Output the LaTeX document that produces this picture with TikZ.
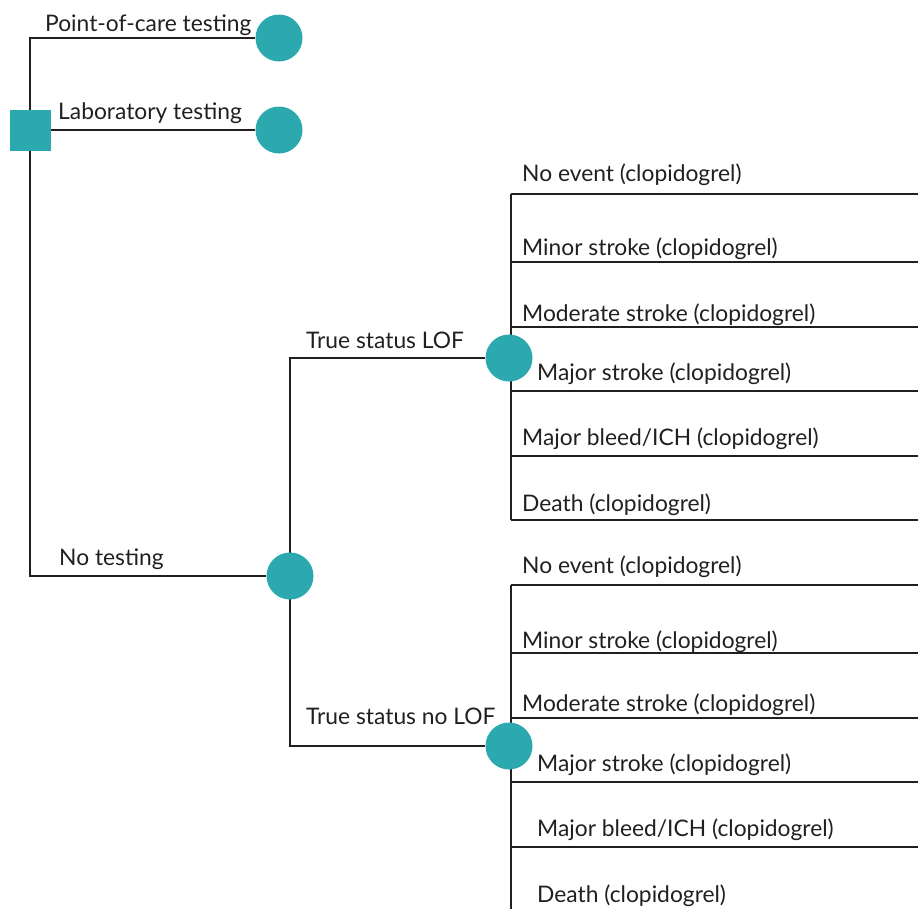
\documentclass[tikz,border=0pt]{standalone}
\usepackage{fontspec}
\setmainfont{Lato}
\usetikzlibrary{backgrounds}
\definecolor{teal}{HTML}{2CA9AF}
\definecolor{ink}{HTML}{231F20}
\tikzset{
  branch/.style={draw=ink, line width=2pt},
  decision/.style={rectangle, fill=teal, minimum size=41pt, inner sep=0pt},
  chance/.style={circle, fill=teal, minimum size=47pt, inner sep=0pt},
  lbl/.style={anchor=base west, inner sep=0pt, text=ink, font=\fontsize{22.8}{27}\selectfont},
}
\begin{document}
\begin{tikzpicture}[x=1pt, y=-1pt]
\useasboundingbox (0,0) rectangle (918,908);

% decision and chance nodes
\node[decision] (root) at (30,130) {};
\node[chance] (poc) at (279,38) {};
\node[chance] (lab) at (279,130) {};
\node[chance] (none) at (290,576) {};
\node[chance] (lof) at (509,358) {};
\node[chance] (nolof) at (509,746) {};

% outcome branch points and right-hand ends
\foreach \n/\y in {a1/194, a2/262, a3/326.5, a4/391, a5/456, a6/520,
                   b1/585, b2/653, b3/717.5, b4/782, b5/846.5, b6/911}{
  \coordinate (\n) at (511,\y);
  \coordinate (\n e) at (918,\y);
}

% strategy labels
\node[lbl] (tpoc) at (45,31.5) {Point-of-care testing};
\node[lbl] (tlab) at (58,119) {Laboratory testing};
\node[lbl] (tnone) at (59,565.5) {No testing};
\node[lbl] (tlof) at (306,348.5) {True status LOF};
\node[lbl] (tnolof) at (306,724.5) {True status no LOF};

% outcome labels
\node[lbl] (la1) at (522,181.5) {No event (clopidogrel)};
\node[lbl] (la2) at (522,255) {Minor stroke (clopidogrel)};
\node[lbl] (la3) at (522,321) {Moderate stroke (clopidogrel)};
\node[lbl] (la4) at (537,380) {Major stroke (clopidogrel)};
\node[lbl] (la5) at (522,445) {Major bleed/ICH (clopidogrel)};
\node[lbl] (la6) at (522,511) {Death (clopidogrel)};
\node[lbl] (lb1) at (522,573) {No event (clopidogrel)};
\node[lbl] (lb2) at (522,648) {Minor stroke (clopidogrel)};
\node[lbl] (lb3) at (522,711.5) {Moderate stroke (clopidogrel)};
\node[lbl] (lb4) at (537,771) {Major stroke (clopidogrel)};
\node[lbl] (lb5) at (537,836.5) {Major bleed/ICH (clopidogrel)};
\node[lbl] (lb6) at (537,902) {Death (clopidogrel)};

\begin{pgfonlayer}{background}
  % strategy branches
  \draw[branch] (root.center) |- (poc);
  \draw[branch] (root.center) -- (lab);
  \draw[branch] (root.center) |- (none);
  % true status branches
  \draw[branch] (none.center) |- (lof);
  \draw[branch] (none.center) |- (nolof);
  % outcome fans
  \draw[branch] (a1) -- (a6);
  \draw[branch] (b1) -- (b6);
  \foreach \n in {a1,a2,a3,a4,a5,a6,b1,b2,b3,b4,b5,b6}
    \draw[branch] (\n) -- (\n e);
\end{pgfonlayer}
\end{tikzpicture}
\end{document}
